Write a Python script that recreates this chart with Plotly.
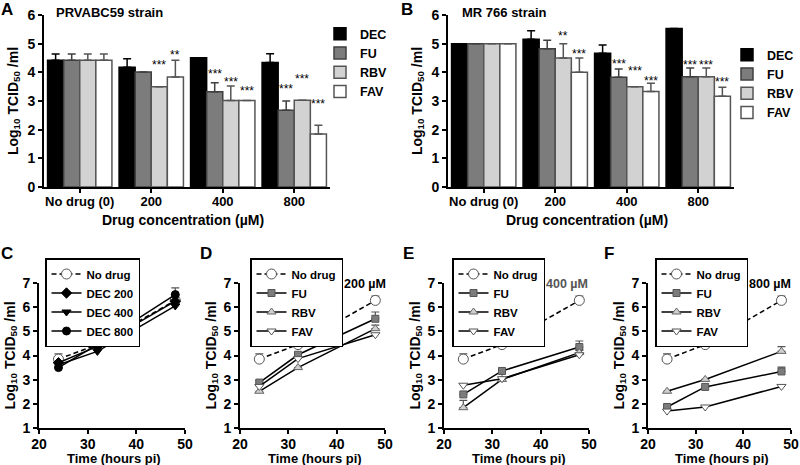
import plotly.graph_objects as go

FONT = "Liberation Sans, Arial, sans-serif"

conc = ["No drug (0)", "200", "400", "800"]
drugs = ["DEC", "FU", "RBV", "FAV"]

# A - PRVABC59 strain (log10 TCID50/ml, mean and +SD)
a_dec = [4.42, 4.18, 4.51, 4.34]
a_fu = [4.42, 4.01, 3.32, 2.68]
a_rbv = [4.42, 3.50, 3.02, 3.03]
a_fav = [4.42, 3.84, 3.02, 1.85]
a_dec_err = [0.22, 0.29, 0.0, 0.31]
a_fu_err = [0.22, 0.0, 0.32, 0.32]
a_rbv_err = [0.22, 0.0, 0.50, 0.0]
a_fav_err = [0.22, 0.58, 0.0, 0.30]
a_sig = [["", "", "", ""], ["", "", "***", "***"], ["", "***", "***", "***"], ["", "**", "***", "***"]]

# B - MR 766 strain
b_dec = [5.0, 5.15, 4.67, 5.53]
b_fu = [5.0, 4.82, 3.83, 3.85]
b_rbv = [5.0, 4.50, 3.50, 3.85]
b_fav = [5.0, 4.00, 3.33, 3.17]
b_dec_err = [0.0, 0.30, 0.28, 0.0]
b_fu_err = [0.0, 0.30, 0.29, 0.30]
b_rbv_err = [0.0, 0.50, 0.0, 0.30]
b_fav_err = [0.0, 0.50, 0.29, 0.31]
b_sig = [["", "", "", ""], ["", "", "***", "***"], ["", "**", "***", "***"], ["", "***", "***", "***"]]

# heights where the significance labels sit
a_sig_at = [[0, 0, 0, 0], [0, 0, 4.05, 3.52], [0, 4.36, 3.75, 3.87], [0, 4.72, 3.47, 3.0]]
b_sig_at = [[0, 0, 0, 0], [0, 0, 4.39, 4.37], [0, 5.37, 4.14, 4.37], [0, 4.73, 3.79, 3.75]]

# time courses (hours pi)
hours = [24, 32, 48]
nodrug = [3.85, 4.45, 6.28]
nodrug_err = [0.22, 0.0, 0.18]

dec200 = [3.70, 4.38, 6.25]
dec400 = [3.62, 4.17, 6.05]
dec800 = [3.50, 4.45, 6.52]
dec800_err = [0.0, 0.0, 0.28]

fu200 = [2.88, 4.03, 5.52]
fu200_err = [0.08, 0.0, 0.28]
rbv200 = [2.52, 3.50, 5.11]
rbv200_err = [0.0, 0.0, 0.15]
fav200 = [2.72, 3.87, 4.86]

fu400 = [2.39, 3.36, 4.35]
fu400_err = [0.0, 0.10, 0.25]
rbv400 = [1.84, 3.01, 4.12]
rbv400_err = [0.30, 0.0, 0.10]
fav400 = [2.77, 3.04, 4.03]

fu800 = [1.87, 2.70, 3.34]
fu800_err = [0.0, 0.0, 0.18]
rbv800 = [2.52, 3.01, 4.17]
rbv800_err = [0.0, 0.0, 0.20]
fav800 = [1.70, 1.87, 2.72]

bar_fill = {"DEC": "#000000", "FU": "#7c7c7c", "RBV": "#d2d2d2", "FAV": "#ffffff"}
bar_edge = {"DEC": "#000000", "FU": "#3f3f3f", "RBV": "#555555", "FAV": "#555555"}

fig = go.Figure()

panels = [
    ("", "legend", [a_dec, a_fu, a_rbv, a_fav], [a_dec_err, a_fu_err, a_rbv_err, a_fav_err]),
    ("2", "legend2", [b_dec, b_fu, b_rbv, b_fav], [b_dec_err, b_fu_err, b_rbv_err, b_fav_err]),
]
for sfx, leg, vals, errs in panels:
    for d, v, e in zip(drugs, vals, errs):
        fig.add_trace(go.Bar(
            x=conc, y=v, name=d, legend=leg,
            xaxis="x" + sfx, yaxis="y" + sfx,
            marker=dict(color=bar_fill[d], line=dict(color=bar_edge[d], width=1.5)),
            error_y=dict(type="data", symmetric=False, array=e, arrayminus=[0] * len(e),
                         color=bar_edge[d], thickness=1.5, width=4),
        ))


def course(y, name, ax, leg, symbol, fill, edge, size, err=None, dash="solid"):
    fig.add_trace(go.Scatter(
        x=hours, y=y, name=name, legend=leg, xaxis="x" + ax, yaxis="y" + ax,
        mode="lines+markers",
        line=dict(color="black", width=1.5, dash=dash),
        marker=dict(symbol=symbol, size=size, color=fill, line=dict(color=edge, width=1)),
        error_y=dict(type="data", symmetric=False, array=err or [0, 0, 0], arrayminus=[0, 0, 0],
                     color="#555555", thickness=1.2, width=4, visible=err is not None),
    ))


course(nodrug, "No drug", "3", "legend3", "circle", "white", "#555555", 10, nodrug_err, "5px,3px")
course(dec200, "DEC 200", "3", "legend3", "diamond", "black", "black", 8)
course(dec400, "DEC 400", "3", "legend3", "triangle-down", "black", "black", 8)
course(dec800, "DEC 800", "3", "legend3", "circle", "black", "black", 8, dec800_err)

for ax, fu, fue, rbv, rbve, fav in [
    ("4", fu200, fu200_err, rbv200, rbv200_err, fav200),
    ("5", fu400, fu400_err, rbv400, rbv400_err, fav400),
    ("6", fu800, fu800_err, rbv800, rbv800_err, fav800),
]:
    leg = "legend" + ax
    course(nodrug, "No drug", ax, leg, "circle", "white", "#555555", 10, nodrug_err, "5px,3px")
    course(fu, "FU", ax, leg, "square", "#7c7c7c", "#555555", 7, fue)
    course(rbv, "RBV", ax, leg, "triangle-up", "#cfcfcf", "#666666", 8, rbve)
    course(fav, "FAV", ax, leg, "triangle-down", "white", "#555555", 8)

W, H = 800, 465


def fx(x):
    return x / W


def fy(y):
    return 1 - y / H


bold13 = dict(family=FONT, size=13, color="black", weight="bold")
bold14 = dict(family=FONT, size=14, color="black", weight="bold")
ytitle = "Log<sub>10</sub> TCID<sub>50</sub> /ml"

axis_common = dict(showline=True, linewidth=2, linecolor="black", ticks="outside", ticklen=4,
                   tickwidth=1.5, tickcolor="black", showgrid=False, zeroline=False)

layout = dict(
    width=W, height=H, margin=dict(l=0, r=0, t=0, b=0, autoexpand=False),
    plot_bgcolor="white", paper_bgcolor="white",
    font=dict(family=FONT, color="black"),
    barmode="group", bargap=0.1, bargroupgap=0.0,
)

xtitles = []
# bar panels
for sfx, (x0, x1) in [("", (44, 330)), ("2", (448, 734))]:
    layout["xaxis" + sfx] = dict(axis_common, domain=[fx(x0), fx(x1)], anchor="y" + sfx,
                                 tickfont=bold13, range=[-0.5, 3.5], ticklabelstandoff=-3)
    layout["yaxis" + sfx] = dict(axis_common, domain=[fy(187), fy(15)], anchor="x" + sfx,
                                 range=[0, 6], dtick=1, tickfont=bold14,
                                 title=dict(text=ytitle, font=bold14, standoff=6))
    xtitles.append(("Drug concentration (µM)", (x0 + x1) / 2 - 4, 220, bold14))

# time course panels
for ax, (x0, x1) in zip(["3", "4", "5", "6"], [(39, 185), (240, 385), (444, 589), (648, 791)]):
    layout["xaxis" + ax] = dict(axis_common, domain=[fx(x0), fx(x1)], anchor="y" + ax,
                                range=[20, 50], dtick=10, tickfont=bold14, ticklabelstandoff=-2)
    layout["yaxis" + ax] = dict(axis_common, domain=[fy(428), fy(283)], anchor="x" + ax,
                                range=[1, 7], dtick=1, tickfont=bold14,
                                title=dict(text=ytitle, font=bold14, standoff=4))
    xtitles.append(("Time (hours pi)", (x0 + x1) / 2 + 2, 458, bold13))

# legends
layout["legend"] = dict(x=fx(320), y=fy(19), xanchor="left", yanchor="top",
                        font=dict(bold13, size=12.5), bgcolor="rgba(0,0,0,0)")
layout["legend2"] = dict(x=fx(727), y=fy(40), xanchor="left", yanchor="top",
                         font=dict(bold13, size=12.5), bgcolor="rgba(0,0,0,0)")
for ax, x0 in zip(["3", "4", "5", "6"], [45, 250, 452, 655]):
    layout["legend" + ax] = dict(x=fx(x0), y=fy(258), xanchor="left", yanchor="top",
                                 font=dict(bold13, size=11.5), bgcolor="white",
                                 bordercolor="black", borderwidth=1.5)

fig.update_layout(**layout)


def paper_text(text, x, y, font, xanchor="center"):
    return dict(text=text, x=fx(x), y=fy(y), xref="paper", yref="paper", showarrow=False,
                xanchor=xanchor, yanchor="middle", font=font)


ann = [paper_text(t, x, y, f) for t, x, y, f in xtitles]
# panel letters
for letter, x, y in [("A", 7, 10), ("B", 407, 10), ("C", 7, 253), ("D", 206, 253), ("E", 408, 253), ("F", 609, 253)]:
    ann.append(paper_text(letter, x, y, dict(family=FONT, size=17, color="black", weight="bold")))
# strain titles
for text, x in [("PRVABC59 strain", 54), ("MR 766 strain", 460)]:
    ann.append(paper_text(text, x, 13, bold13, "left"))
# concentration labels on the time courses
for text, x1, col in [("200 µM", 388, "black"), ("400 µM", 590, "#555555"), ("800 µM", 793, "black")]:
    ann.append(paper_text(text, x1, 284, dict(bold13, size=12.5, color=col), "right"))

# significance stars
offsets = [(j - 1.5) * 0.9 / 4 for j in range(4)]
for sfx, sig, at in [("", a_sig, a_sig_at), ("2", b_sig, b_sig_at)]:
    for j in range(4):
        for i in range(4):
            if sig[j][i]:
                ann.append(dict(text=sig[j][i], x=i + offsets[j], y=at[j][i],
                                xref="x" + sfx, yref="y" + sfx, showarrow=False,
                                yshift=-3, font=dict(family=FONT, size=12, color="black")))

fig.update_layout(annotations=ann)

# the default page body has an 8px margin; drop it so the figure sits at the window corner
fig.write_html("out.html", config={"displayModeBar": False},
               post_script="document.body.style.margin='0';")
